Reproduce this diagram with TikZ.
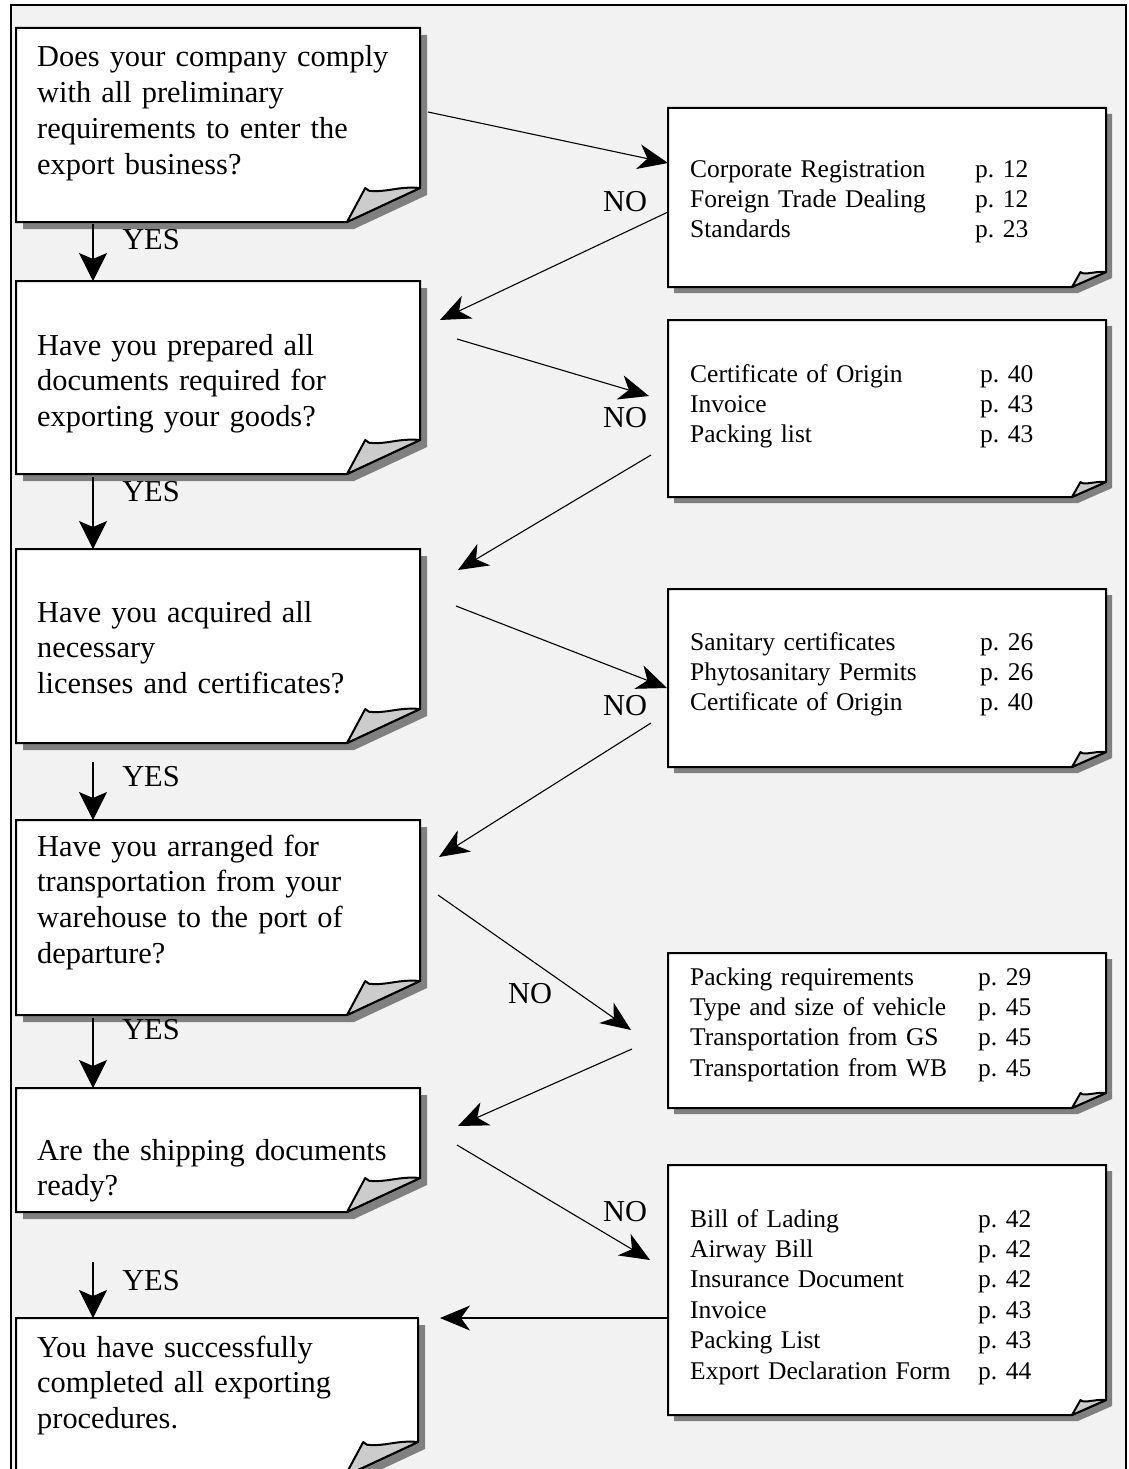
\documentclass[tikz,border=0pt]{standalone}
\usepackage{fontspec}
\setmainfont{Liberation Serif}
\usetikzlibrary{arrows.meta,fit}
\definecolor{bggray}{HTML}{F2F2F2}
\definecolor{shadowgray}{HTML}{808080}
\definecolor{foldgray}{HTML}{CCCCCC}
\frenchspacing
\tikzset{
  boxline/.style={draw=black, line width=2pt, line join=miter},
  qtext/.style={font=\fontsize{30.4}{35.8}\selectfont, inner sep=0pt, align=left, text width=390pt, anchor=base west},
  ltext/.style={font=\fontsize{25.5}{30.4}\selectfont, inner sep=0pt, align=left, text width=280pt, anchor=base west},
  lbl/.style={font=\fontsize{30.4}{35.8}\selectfont, inner sep=0pt},
  noarrow/.style={line width=1.1pt, -{Stealth[length=30pt,width=25pt,inset=9pt]}},
  yesarrow/.style={line width=1.1pt, -{Stealth[length=28pt,width=28pt,inset=6pt]}},
}
% #1 name, #2 x1, #3 y1, #4 x2, #5 y2, #6 fold width, #7 fold height, #8 shadow offset
\newcommand\paperbox[8]{%
  \fill[shadowgray] ({#2+#8},{#3+#8}) -- ({#4+#8},{#3+#8}) -- ({#4+#8},{#5-#7+#8}) -- ({#4-#6+#8},{#5+#8}) -- ({#2+#8},{#5+#8}) -- cycle;
  \draw[boxline, fill=white] (#2,#3) -- (#4,#3) -- (#4,{#5-#7}) -- ({#4-#6},#5) -- (#2,#5) -- cycle;
  \draw[boxline, fill=foldgray, line join=round] ({#4-#6},#5) -- ({#4-0.75*#6},{#5-#7}) -- ({#4-0.70*#6},{#5-0.92*#7})
     .. controls ({#4-0.45*#6},{#5-0.86*#7}) and ({#4-0.3*#6},{#5-1.06*#7}) .. (#4,{#5-#7}) -- cycle;
  \coordinate (#1-nw) at (#2,#3);
  \coordinate (#1-se) at (#4,#5);
  \node[fit=(#1-nw)(#1-se), inner sep=0pt] (#1) {};
}
\begin{document}
\begin{tikzpicture}[x=1pt,y=-1pt]
\clip (0,0) rectangle (1129,1469);
\useasboundingbox (0,0) rectangle (1129,1469);
\fill[white] (0,0) rectangle (1129,1469);
% outer frame
\fill[bggray] (11,5) rectangle (1126,1490);
\draw[line width=2pt] (11,1490) -- (11,5) -- (1126,5) -- (1126,1490);

% left question boxes
\paperbox{q1}{16}{28}{420}{222}{73}{34}{7}
\paperbox{q2}{16}{281}{420}{474}{73}{34}{7}
\paperbox{q3}{16}{549}{420}{743}{73}{34}{7}
\paperbox{q4}{16}{820}{420}{1015}{73}{34}{7}
\paperbox{q5}{16}{1088}{420}{1212}{73}{34}{7}
\paperbox{q6}{16}{1318}{418}{1476}{73}{34}{7}

% right list boxes
\paperbox{r1}{668}{108}{1106}{287}{34}{15}{6}
\paperbox{r2}{668}{320}{1106}{497}{34}{15}{6}
\paperbox{r3}{668}{589}{1106}{767}{34}{15}{6}
\paperbox{r4}{668}{953}{1106}{1108}{34}{15}{6}
\paperbox{r5}{668}{1165}{1106}{1415}{34}{15}{6}

% question texts
\node[qtext] (t1) at (37,67) {Does your company comply\\with all preliminary\\requirements to enter the\\export business?};
\node[qtext] (t2) at (37,355) {Have you prepared all\\documents required for\\exporting your goods?};
\node[qtext] (t3) at (37,622) {Have you acquired all\\necessary\\licenses and certificates?};
\node[qtext] (t4) at (37,856) {Have you arranged for\\transportation from your\\warehouse to the port of\\departure?};
\node[qtext] (t5) at (37,1160) {Are the shipping documents\\ready?};
\node[qtext] (t6) at (37,1357) {You have successfully\\completed all exporting\\procedures.};

% list texts
\node[ltext] (l1) at (690,177) {Corporate Registration\\Foreign Trade Dealing\\Standards};
\node[ltext, text width=120pt] (p1) at (975,177) {p. 12\\p. 12\\p. 23};
\node[ltext] (l2) at (690,382) {Certificate of Origin\\Invoice\\Packing list};
\node[ltext, text width=120pt] (p2) at (980,382) {p. 40\\p. 43\\p. 43};
\node[ltext] (l3) at (690,650) {Sanitary certificates\\Phytosanitary Permits\\Certificate of Origin};
\node[ltext, text width=120pt] (p3) at (980,650) {p. 26\\p. 26\\p. 40};
\node[ltext] (l4) at (690,985) {Packing requirements\\Type and size of vehicle\\Transportation from GS\\Transportation from WB};
\node[ltext, text width=120pt] (p4) at (978,985) {p. 29\\p. 45\\p. 45\\p. 45};
\node[ltext] (l5) at (690,1227) {Bill of Lading\\Airway Bill\\Insurance Document\\Invoice\\Packing List\\Export Declaration Form};
\node[ltext, text width=120pt] (p5) at (978,1227) {p. 42\\p. 42\\p. 42\\p. 43\\p. 43\\p. 44};

% YES arrows
\coordinate (y1s) at (93,224); \coordinate (y1e) at (93,281);
\coordinate (y2s) at (93,477); \coordinate (y2e) at (93,549);
\coordinate (y3s) at (93,762); \coordinate (y3e) at (93,820);
\coordinate (y4s) at (93,1018); \coordinate (y4e) at (93,1088);
\coordinate (y5s) at (93,1262); \coordinate (y5e) at (93,1318);
\draw[yesarrow] (y1s) -- (y1e);
\draw[yesarrow] (y2s) -- (y2e);
\draw[yesarrow] (y3s) -- (y3e);
\draw[yesarrow] (y4s) -- (y4e);
\draw[yesarrow] (y5s) -- (y5e);
\node[lbl] (yes1) at (151,240) {YES};
\node[lbl] (yes2) at (151,492) {YES};
\node[lbl] (yes3) at (151,777) {YES};
\node[lbl] (yes4) at (151,1030) {YES};
\node[lbl] (yes5) at (151,1281) {YES};

% NO arrows
\coordinate (n1s) at (428,112);  \coordinate (n1e) at (668,163);
\coordinate (b1s) at (668,212);  \coordinate (b1e) at (440,320);
\coordinate (n2s) at (457,339);  \coordinate (n2e) at (649,396);
\coordinate (b2s) at (651,455);  \coordinate (b2e) at (458,570);
\coordinate (n3s) at (456,606);  \coordinate (n3e) at (667,688);
\coordinate (b3s) at (651,723);  \coordinate (b3e) at (439,857);
\coordinate (n4s) at (438,895);  \coordinate (n4e) at (631,1030);
\coordinate (b4s) at (632,1049); \coordinate (b4e) at (458,1126);
\coordinate (n5s) at (457,1145); \coordinate (n5e) at (650,1260);
\coordinate (b5s) at (668,1318); \coordinate (b5e) at (440,1318);
\foreach \a in {n1,b1,n2,b2,n3,b3,n4,b4,n5,b5}{
  \draw[noarrow] (\a s) -- (\a e);
}
\node[lbl] (no1) at (625,202) {NO};
\node[lbl] (no2) at (625,418) {NO};
\node[lbl] (no3) at (625,706) {NO};
\node[lbl] (no4) at (530,994) {NO};
\node[lbl] (no5) at (625,1212) {NO};
\end{tikzpicture}
\end{document}
